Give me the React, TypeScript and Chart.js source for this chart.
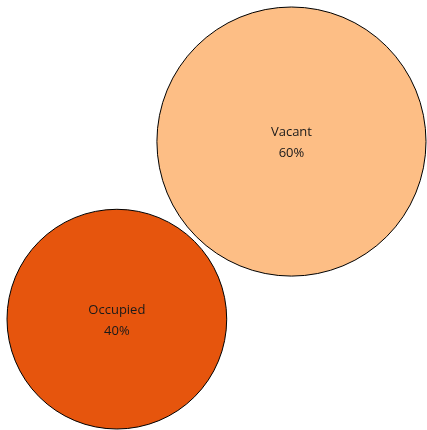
import React, { useEffect, useRef } from "react";
import { Chart, registerables } from "chart.js";

Chart.register(...registerables);

const categories = ["Vacant", "Occupied"];
const values = [60, 40];
const colors = ["#fdbe85", "#e6550d"];

const W = 427;
const H = 430;

export default function App() {
  const ref = useRef<HTMLCanvasElement | null>(null);

  useEffect(() => {
    document.body.style.margin = "0";
    const canvas = ref.current;
    if (!canvas) return;
    const K = 17.37;
    const radii = values.map((v) => K * Math.sqrt(v));
    const rV = radii[0];
    const rO = radii[1];
    const centers = [
      { x: W - 1 - rV, y: 7 + rV },
      { x: 7 + rO, y: H - 1 - rO },
    ];
    const data = categories.map((c, i) => ({ x: centers[i].x, y: centers[i].y, r: radii[i] }));

    const labelPlugin = {
      id: "bubbleLabels",
      afterDatasetsDraw(chart: any) {
        const ctx = chart.ctx;
        const meta = chart.getDatasetMeta(0);
        ctx.save();
        ctx.fillStyle = "#1a1a1a";
        ctx.font = "13px 'Open Sans'";
        ctx.textAlign = "center";
        ctx.textBaseline = "middle";
        meta.data.forEach((el: any, i: number) => {
          ctx.fillText(categories[i], el.x, el.y - 9);
          ctx.fillText(values[i] + "%", el.x, el.y + 12);
        });
        ctx.restore();
      },
    };

    const chart = new Chart(canvas, {
      type: "bubble",
      data: {
        datasets: [
          {
            data,
            backgroundColor: colors,
            borderColor: "#000",
            borderWidth: 1,
            hoverBorderWidth: 1,
            hoverRadius: 0,
            clip: false,
          } as any,
        ],
      },
      options: {
        responsive: false,
        animation: false,
        events: [],
        layout: { padding: 0, autoPadding: false } as any,
        plugins: { legend: { display: false }, tooltip: { enabled: false } },
        scales: {
          x: { type: "linear", display: false, min: 0, max: W },
          y: { type: "linear", display: false, min: 0, max: H, reverse: true },
        },
      },
      plugins: [labelPlugin],
    });
    return () => chart.destroy();
  }, []);

  return <canvas ref={ref} width={W} height={H} style={{ display: "block" }} />;
}
